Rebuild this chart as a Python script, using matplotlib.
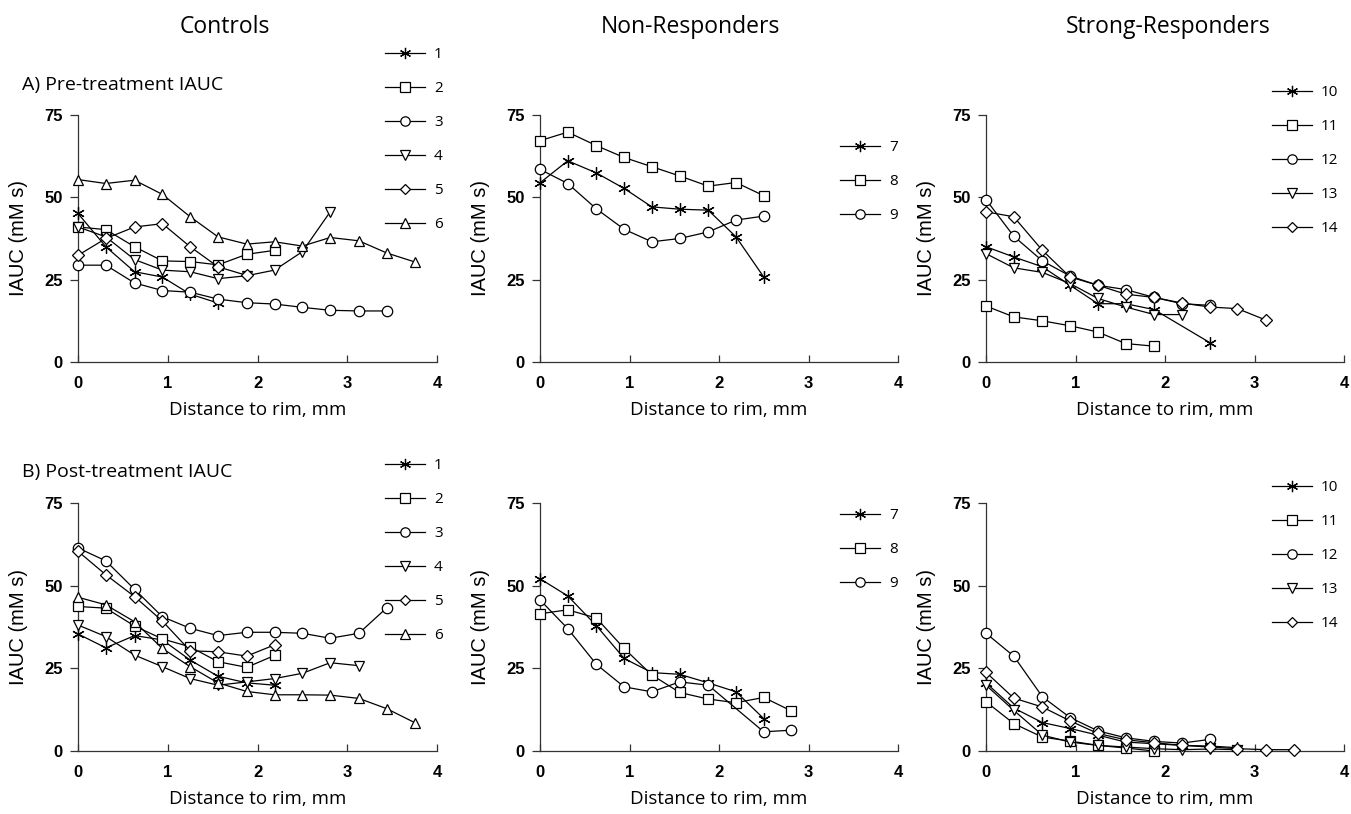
import numpy as np
import matplotlib
matplotlib.use("Agg")
import matplotlib.pyplot as plt

# distance to rim (mm) of each sampled ring
dist = [0.0, 0.31, 0.63, 0.94, 1.25, 1.56, 1.88, 2.19, 2.5, 2.81, 3.13, 3.44, 3.75]
nan = np.nan

ctrl_labels = ["1", "2", "3", "4", "5", "6"]
ctrl_pre = [
    [45.1, 35.0, 27.4, 25.8, 20.6, 17.9],
    [41.0, 40.2, 35.0, 30.7, 30.5, 29.5, 32.7, 33.9],
    [29.4, 29.4, 24.0, 21.7, 21.2, 19.1, 18.0, 17.6, 16.6, 15.7, 15.5, 15.5],
    [41.0, 38.0, 31.1, 27.9, 27.4, 25.3, 26.2, 27.9, 33.5, 45.6],
    [32.4, 37.5, 41.0, 42.0, 35.0, 28.9, 26.3],
    [55.4, 54.2, 55.2, 50.9, 44.1, 38.0, 35.8, 36.5, 35.2, 37.8, 36.8, 33.1, 30.4],
]
ctrl_post = [
    [35.4, 31.2, 34.9, 33.6, 27.5, 22.6, 20.6, 19.9],
    [43.7, 43.2, 37.8, 33.9, 31.5, 27.0, 25.3, 28.9],
    [61.4, 57.5, 48.9, 40.6, 37.1, 34.9, 35.9, 35.9, 35.6, 34.1, 35.6, 43.3],
    [38.1, 34.6, 29.0, 25.5, 21.9, 19.9, 20.9, 21.9, 23.5, 26.7, 25.8],
    [60.4, 53.3, 46.7, 39.3, 30.3, 30.0, 28.7, 32.1],
    [46.5, 44.2, 39.1, 31.0, 25.5, 20.6, 18.0, 17.0, 17.0, 16.9, 15.9, 12.8, 8.6],
]

non_labels = ["7", "8", "9"]
non_pre = [
    [54.4, 61.1, 57.4, 52.7, 47.1, 46.4, 46.1, 38.0, 25.8],
    [67.2, 69.8, 65.7, 62.1, 59.3, 56.5, 53.4, 54.5, 50.5],
    [58.5, 54.2, 46.5, 40.3, 36.5, 37.5, 39.5, 43.1, 44.3],
]
non_post = [
    [52.1, 46.9, 37.9, 28.0, 23.7, 23.2, 20.6, 17.9, 9.8],
    [41.5, 42.7, 40.2, 31.0, 23.0, 17.7, 15.7, 14.6, 16.2, 12.1],
    [45.7, 37.0, 26.2, 19.4, 17.9, 20.9, 19.9, nan, 5.8, 6.3],
]

strong_labels = ["10", "11", "12", "13", "14"]
strong_pre = [
    [35.0, 31.9, 28.9, 23.3, 17.7, 17.7, 15.9, nan, 5.9],
    [17.0, 13.7, 12.5, 11.0, 9.1, 5.6, 4.8],
    [49.3, 38.2, 30.7, 26.1, 23.3, 22.0, 19.6, 17.7, 17.2],
    [32.9, 28.6, 27.2, 23.8, 19.3, 16.7, 14.4, 14.4],
    [45.6, 44.1, 33.9, 25.8, 23.3, 20.6, 19.6, 17.9, 16.7, 16.2, 12.7],
]
strong_post = [
    [20.6, 13.0, 8.6, 6.8, 4.8, 2.7, 2.2, 1.7, 1.5, 1.0],
    [14.9, 8.3, 4.2, 3.0, 1.7, 0.9, 0.0],
    [35.6, 28.7, 16.4, 10.1, 6.1, 4.0, 2.9, 2.4, 3.5],
    [19.9, 12.3, 4.8, 2.7, 1.7, 1.2, 0.7, 0.4, 0.6, 0.4],
    [23.8, 16.0, 13.3, 9.1, 5.3, 3.4, 2.5, 1.7, 1.2, 0.7, 0.4, 0.4],
]

star = (6, 2, 0)
markers = [star, "s", "o", "v", "D", "^"]

W, H = 1351, 814
fig = plt.figure(figsize=(W / 100, H / 100), dpi=100)

title_font = "Open Sans"
tick_font = "Liberation Sans"


def px_box(x0, x1, ytop, ybot):
    return [x0 / W, 1 - ybot / H, (x1 - x0) / W, (ybot - ytop) / H]


def draw_panel(box, series, labels, leg_xy):
    ax = fig.add_axes(box)
    for i, ys in enumerate(series):
        xs = np.array(dist[:len(ys)])
        ys = np.array(ys, dtype=float)
        ok = ~np.isnan(ys)
        m = markers[i]
        ms = 7.5 if m != "D" else 6
        if m == star:
            ms = 9
        ax.plot(xs[ok], ys[ok], color="black", lw=0.9, marker=m, ms=ms,
                mfc="white" if m != star else "black", mec="black", mew=0.9,
                label=labels[i], clip_on=False, zorder=3)
    ax.set_xlim(0, 4)
    ax.set_ylim(0, 75)
    ax.set_xticks([0, 1, 2, 3, 4])
    ax.set_yticks([0, 25, 50, 75])
    for s in ["top", "right"]:
        ax.spines[s].set_visible(False)
    for s in ["left", "bottom"]:
        ax.spines[s].set_linewidth(0.9)
        ax.spines[s].set_color("#333333")
    ax.tick_params(axis="x", direction="in", length=5, width=0.9, pad=10, color="#333333")
    ax.tick_params(axis="y", direction="out", length=6, width=0.9, pad=5, color="#333333")
    for t in ax.get_xticklabels() + ax.get_yticklabels():
        t.set_fontfamily(tick_font)
        t.set_fontweight("bold")
        t.set_fontsize(12)
    ax.set_ylabel("IAUC (mM s)", fontfamily=tick_font, fontsize=14.5, labelpad=12)
    ax.set_xlabel("Distance to rim, mm", fontfamily=title_font, fontsize=13.5, labelpad=7)
    ax.legend(loc="upper left", bbox_to_anchor=(leg_xy[0] / W, 1 - leg_xy[1] / H),
              bbox_transform=fig.transFigure, frameon=False, borderpad=0,
              borderaxespad=0, handlelength=2.6, handletextpad=0.6,
              labelspacing=1.25, prop={"family": title_font, "size": 11},
              markerscale=0.9)
    return ax


top = (115, 362)
bot = (503, 751)
cols = [(78, 437), (540, 898), (986, 1344)]

draw_panel(px_box(cols[0][0], cols[0][1], *top), ctrl_pre, ctrl_labels, (385, 47))
draw_panel(px_box(cols[1][0], cols[1][1], *top), non_pre, non_labels, (840, 140))
draw_panel(px_box(cols[2][0], cols[2][1], *top), strong_pre, strong_labels, (1272, 85))
draw_panel(px_box(cols[0][0], cols[0][1], *bot), ctrl_post, ctrl_labels, (385, 458))
draw_panel(px_box(cols[1][0], cols[1][1], *bot), non_post, non_labels, (840, 508))
draw_panel(px_box(cols[2][0], cols[2][1], *bot), strong_post, strong_labels, (1272, 480))

for cx, txt in [(225, "Controls"), (690, "Non-Responders"), (1168, "Strong-Responders")]:
    fig.text(cx / W, 1 - 27 / H, txt, ha="center", va="center",
             fontfamily=title_font, fontsize=16.5)
fig.text(22 / W, 1 - 85 / H, "A) Pre-treatment IAUC", ha="left", va="center",
         fontfamily=title_font, fontsize=14)
fig.text(22 / W, 1 - 472 / H, "B) Post-treatment IAUC", ha="left", va="center",
         fontfamily=title_font, fontsize=14)

fig.savefig("out.png", dpi=100)
